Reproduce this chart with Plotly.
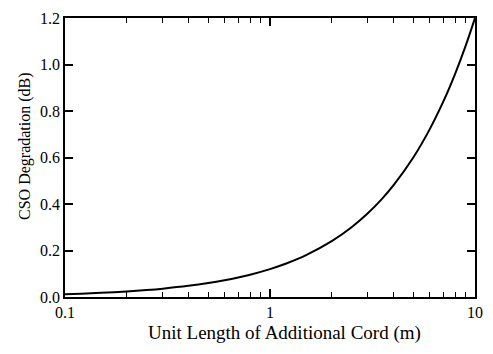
import plotly.graph_objects as go

# Data
cord_length_m = [0.1, 0.12, 0.15, 0.2, 0.25, 0.3, 0.4, 0.5, 0.6, 0.7, 0.8, 1.0,
                 1.2, 1.5, 2.0, 2.5, 3.0, 3.5, 4.0, 5.0, 6.0, 7.0, 8.0, 9.0, 10.0]
cso_degradation_db = [0.012, 0.0144, 0.018, 0.024, 0.030, 0.036, 0.048, 0.060, 0.072,
                      0.084, 0.096, 0.120, 0.144, 0.180, 0.240, 0.300, 0.360, 0.420,
                      0.480, 0.600, 0.720, 0.840, 0.960, 1.080, 1.200]

x_tick_vals = [0.1, 1, 10]
x_tick_text = ["0.1", "1", "10"]
x_minor_vals = [0.2, 0.3, 0.4, 0.5, 0.6, 0.7, 0.8, 0.9, 2, 3, 4, 5, 6, 7, 8, 9]
y_tick_vals = [0.0, 0.2, 0.4, 0.6, 0.8, 1.0, 1.2]
y_tick_text = ["0.0", "0.2", "0.4", "0.6", "0.8", "1.0", "1.2"]
x_title = "Unit Length of Additional Cord (m)"
y_title = "CSO Degradation (dB)"

font_family = "Liberation Serif"

fig = go.Figure()
fig.add_trace(go.Scatter(
    x=cord_length_m, y=cso_degradation_db, mode="lines",
    line=dict(color="black", width=2, shape="spline"),
    showlegend=False, hoverinfo="skip",
))

fig.update_layout(
    width=493, height=354,
    margin=dict(l=65, r=11, t=10, b=57),
    paper_bgcolor="white", plot_bgcolor="white",
    font=dict(family=font_family, size=15, color="black"),
)
fig.update_xaxes(
    type="log", range=[-1, 1],
    tickvals=x_tick_vals, ticktext=x_tick_text,
    ticks="inside", ticklen=8, tickwidth=1.5, tickcolor="black",
    minor=dict(tickvals=x_minor_vals, ticks="inside", ticklen=5,
               tickwidth=1.2, tickcolor="black", showgrid=False),
    showline=True, linecolor="black", linewidth=1.5, mirror="ticks",
    showgrid=False, zeroline=False,
    tickfont=dict(family=font_family, size=16),
)
fig.update_yaxes(
    range=[0, 1.2],
    tickvals=y_tick_vals, ticktext=y_tick_text,
    ticks="inside", ticklen=8, tickwidth=1.5, tickcolor="black",
    showline=True, linecolor="black", linewidth=1.5, mirror="ticks",
    showgrid=False, zeroline=False,
    tickfont=dict(family=font_family, size=16),
)

fig.add_annotation(
    text=x_title, xref="paper", yref="paper", x=0.535, y=-0.13,
    xanchor="center", yanchor="middle", showarrow=False,
    font=dict(family=font_family, size=19, color="black"),
)
fig.add_annotation(
    text=y_title, xref="paper", yref="paper", x=-0.096, y=0.54,
    xanchor="center", yanchor="middle", showarrow=False, textangle=-90,
    font=dict(family=font_family, size=16, color="black"),
)

fig.write_html("out.html")
